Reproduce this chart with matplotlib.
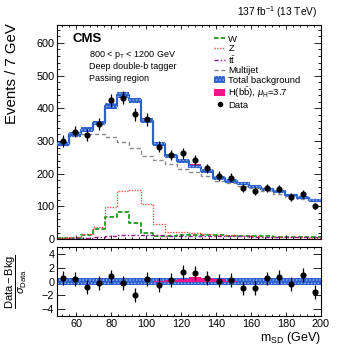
import numpy as np
import matplotlib
matplotlib.use('Agg')
import matplotlib.pyplot as plt
from matplotlib.patches import Patch
from matplotlib.lines import Line2D
from matplotlib.ticker import MultipleLocator

plt.rcParams['font.family'] = ['Liberation Sans', 'DejaVu Sans']
plt.rcParams['mathtext.fontset'] = 'custom'
plt.rcParams['mathtext.rm'] = 'Liberation Sans'
plt.rcParams['mathtext.it'] = 'Liberation Sans:italic'
plt.rcParams['mathtext.bf'] = 'Liberation Sans:bold'
plt.rcParams['hatch.linewidth'] = 0.6

# m_SD binning (22 bins)
edges = np.linspace(49, 200, 23)
centers = 0.5 * (edges[:-1] + edges[1:])

# valores (eventos por bin)
data = [300, 329, 319, 352, 424, 433, 382, 366, 282, 257, 262, 242,
        216, 193, 187, 156, 148, 156, 152, 129, 138, 101]
total_bkg = [291, 320, 335, 355, 407, 441, 425, 362, 291, 253, 238, 222,
             207, 187, 178, 171, 160, 152, 146, 134, 127, 119]
bkg_unc = [7, 7, 7, 7, 8, 8, 8, 7, 7, 6, 6, 6, 6, 6, 6, 5, 5, 5, 5, 5, 5, 5]
multijet = [288, 316, 320, 320, 311, 297, 279, 254, 243, 229, 215, 204,
            194, 178, 173, 163, 156, 148, 139, 130, 124, 117]
w_jets = [2, 3, 14, 30, 68, 84, 48, 18, 8, 10, 13, 13,
          12, 11, 10, 9, 8, 8, 7, 7, 6, 6]
z_jets = [4, 5, 17, 38, 97, 148, 151, 106, 47, 23, 21, 19,
          16, 13, 11, 9, 8, 7, 6, 5, 5, 4]
ttbar = [1, 2, 3, 5, 8, 12, 14, 13, 11, 10, 10, 10,
         9, 9, 8, 8, 7, 7, 7, 6, 6, 6]
signal = [0, 0, 0, 0, 0, 0, 0, 0, 1, 3, 6, 9, 8, 5, 1, 0, 0, 0, 0, 0, 0, 0]

# painel de baixo: (Data - Bkg) / sigma_Data
pulls = [0.5, 0.35, -0.8, -0.15, 0.75, -0.25, -2.0, 0.35, -0.45, 0.25, 1.35, 1.2,
         0.55, 0.15, 0.2, -1.0, -0.95, 0.45, 0.65, -0.4, 1.0, -1.5]
pull_unc = [0.45] * 22
sig_pull = [0, 0, 0, 0, 0, 0, 0, 0, 0.05, 0.2, 0.4, 0.68, 0.58, 0.35, 0.08,
            0, 0, 0, 0, 0, 0, 0]

BLUE = '#2d60cf'
DOTS = '#9fbbf0'
PINK = '#f2148a'


def step(a):
    a = np.asarray(a, dtype=float)
    return np.append(a, a[-1])


fig = plt.figure(figsize=(3.57, 3.47), dpi=100)
ax = fig.add_axes([0.160, 0.311, 0.739, 0.617])
axr = fig.add_axes([0.160, 0.089, 0.739, 0.199])

# --- painel principal ---
tb = np.asarray(total_bkg, float)
unc = np.asarray(bkg_unc, float)
sig = np.asarray(signal, float)

ax.fill_between(edges, step(tb), step(tb + sig), step='post',
                facecolor=PINK, edgecolor='none', linewidth=0, zorder=2)
ax.step(edges, step(tb), where='post', color=BLUE, lw=1.6, zorder=3)
ax.fill_between(edges, step(tb - unc), step(tb + unc), step='post',
                facecolor=BLUE, edgecolor=DOTS, hatch='.....', linewidth=0, zorder=3)

ax.step(edges, step(multijet), where='post', color='#8a8a8a', ls=(0, (3, 2)), lw=1.0, zorder=1)
ax.step(edges, step(w_jets), where='post', color='#1d9a1d', ls=(0, (2.5, 1.2)), lw=1.3, zorder=1)
ax.step(edges, step(z_jets), where='post', color='#ff4d4d', ls=(0, (1, 1)), lw=1.0, zorder=1)
ax.step(edges, step(ttbar), where='post', color='#8e1f8e', ls=(0, (3, 1.5, 1, 1.5)), lw=1.0, zorder=1)

ax.errorbar(centers, data, yerr=np.sqrt(data), fmt='o', color='black',
            ms=3.4, lw=0.9, capsize=0, zorder=5)

ax.set_xlim(49, 200)
ax.set_ylim(0, 655)
ax.set_xticklabels([])
ax.set_ylabel('Events / 7 GeV', fontsize=10.8, loc='top')
ax.yaxis.set_label_coords(-0.145, 1.01)

ax.text(0.057, 0.935, 'CMS', transform=ax.transAxes, fontsize=9.5,
        fontweight='bold', va='center')
ax.text(0.122, 0.86, r'800 < p$_{\mathrm{T}}$ < 1200 GeV', transform=ax.transAxes,
        fontsize=6.5, va='center')
ax.text(0.122, 0.805, 'Deep double-b tagger', transform=ax.transAxes,
        fontsize=6.5, va='center')
ax.text(0.122, 0.75, 'Passing region', transform=ax.transAxes,
        fontsize=6.5, va='center')
ax.text(0.985, 1.025, r'137 fb$^{-1}$ (13 TeV)', transform=ax.transAxes,
        fontsize=7.3, ha='right', va='bottom')

handles = [
    Line2D([], [], color='#1d9a1d', ls=(0, (2.5, 1.2)), lw=1.3),
    Line2D([], [], color='#ff4d4d', ls=(0, (1, 1)), lw=1.0),
    Line2D([], [], color='#8e1f8e', ls=(0, (3, 1.5, 1, 1.5)), lw=1.0),
    Line2D([], [], color='#8a8a8a', ls=(0, (3, 2)), lw=1.0),
    Patch(facecolor=BLUE, edgecolor=DOTS, hatch='.....', linewidth=0),
    Patch(facecolor=PINK, edgecolor='none'),
    Line2D([], [], color='black', marker='o', ms=3, ls='none'),
]
labels = ['W', 'Z', r't$\bar{\mathrm{t}}$', 'Multijet', 'Total background',
          r'H(b$\bar{\mathrm{b}}$), $\mu_{\mathrm{H}}$=3.7', 'Data']
ax.legend(handles, labels, loc='upper left', bbox_to_anchor=(0.595, 0.955),
          frameon=False, fontsize=6.8, handlelength=1.2, handleheight=0.7,
          handletextpad=0.3, labelspacing=0.06, borderpad=0, borderaxespad=0)

# --- painel de razao ---
pu = np.asarray(pull_unc, float)
axr.fill_between(edges, step(-pu), step(pu), step='post',
                 facecolor=BLUE, edgecolor=DOTS, hatch='.....', linewidth=0, zorder=2)
axr.fill_between(edges, 0, step(sig_pull), step='post',
                 facecolor=PINK, edgecolor='none', linewidth=0, zorder=3)
axr.errorbar(centers, pulls, yerr=1, fmt='o', color='black',
             ms=3.4, lw=0.9, capsize=0, zorder=5)
axr.set_xlim(49, 200)
axr.set_ylim(-5, 5)
axr.set_yticks([-4, -2, 0, 2, 4])
axr.set_xlabel(r'm$_{\mathrm{SD}}$ (GeV)', fontsize=9, loc='right')
axr.xaxis.set_label_coords(1.0, -0.2)
axr.set_ylabel(r'$\dfrac{\mathrm{Data - Bkg}}{\sigma_{\mathrm{Data}}}$', fontsize=8)
axr.yaxis.set_label_coords(-0.105, 0.5)

for a in (ax, axr):
    a.xaxis.set_major_locator(MultipleLocator(20))
    a.xaxis.set_minor_locator(MultipleLocator(4))
    a.tick_params(which='both', direction='in', top=True, right=True, labelsize=7.8)
    a.tick_params(axis='x', which='major', length=3.0, width=0.6)
    a.tick_params(axis='x', which='minor', length=1.5, width=0.6)
    for s in a.spines.values():
        s.set_linewidth(0.8)

ax.yaxis.set_major_locator(MultipleLocator(100))
ax.yaxis.set_minor_locator(MultipleLocator(20))
ax.tick_params(axis='y', which='major', length=5, width=0.6, pad=2)
ax.tick_params(axis='y', which='minor', length=2.5, width=0.6)
axr.yaxis.set_minor_locator(MultipleLocator(1))
axr.tick_params(axis='y', which='major', length=5.5, width=0.6, pad=2)
axr.tick_params(axis='y', which='minor', length=0, width=0.6)
axr.tick_params(axis='x', pad=2)

plt.savefig('out.png', dpi=100, facecolor='white')
